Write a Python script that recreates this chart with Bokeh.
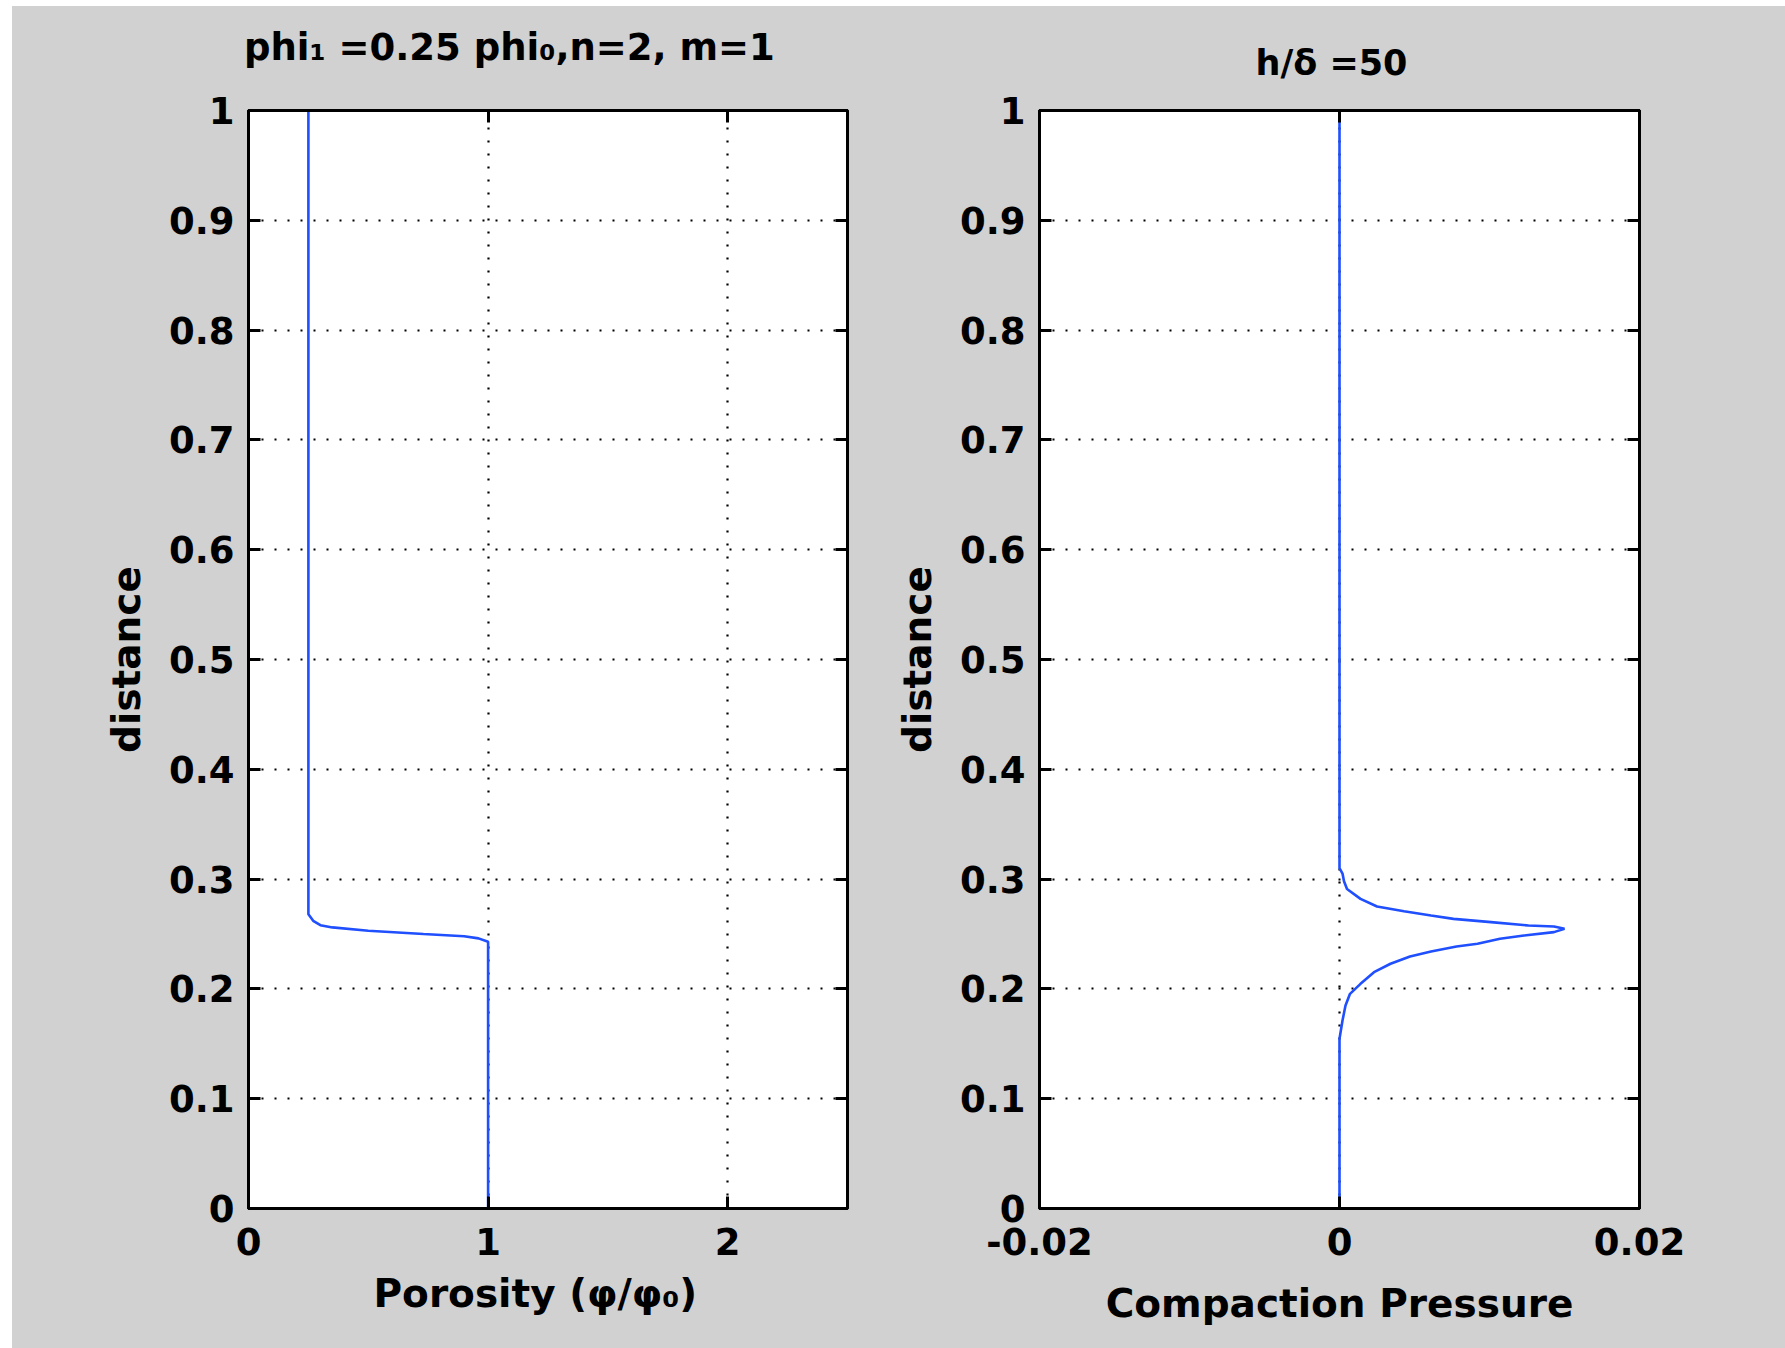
from bokeh.plotting import figure
from bokeh.models import Range1d, FixedTicker, CustomJSTickFormatter, LinearAxis, Title, Spacer
from bokeh.layouts import row, column
from bokeh.embed import file_html
from bokeh.resources import INLINE

# ---------------- data ----------------
distance_ticks = [0, 0.1, 0.2, 0.3, 0.4, 0.5, 0.6, 0.7, 0.8, 0.9, 1.0]
porosity_ticks = [0, 1, 2]
pressure_ticks = [-0.02, 0, 0.02]

porosity_x = [0.25, 0.25, 0.27, 0.30, 0.35, 0.50, 0.73, 0.90, 0.96, 1.0, 1.0]
porosity_y = [1.0, 0.268, 0.262, 0.258, 0.256, 0.253, 0.250, 0.248, 0.246, 0.243, 0.0]

pressure_x = [0, 0, 0.0002, 0.0003, 0.0005, 0.0014, 0.0025, 0.0043, 0.0061, 0.0076,
              0.0101, 0.0126, 0.0143, 0.0150, 0.0143, 0.0123, 0.0107, 0.0092, 0.0078,
              0.0061, 0.0047, 0.0034, 0.0023, 0.0014, 0.0007, 0.0004, 0.0002, 0, 0]
pressure_y = [1.0, 0.31, 0.305, 0.298, 0.291, 0.282, 0.275, 0.2708, 0.2669, 0.2638,
              0.2608, 0.2577, 0.2568, 0.2547, 0.2517, 0.2486, 0.2456, 0.2411, 0.2386,
              0.2341, 0.2295, 0.2229, 0.2152, 0.2046, 0.1955, 0.1849, 0.1712, 0.1546, 0.0]

left_title = "phi\u2081 =0.25 phi\u2080,n=2, m=1"
right_title = "h/\u03b4 =50"
left_xlabel = "Porosity (\u03c6/\u03c6\u2080)"
right_xlabel = "Compaction Pressure"
ylabel = "distance"

# ---------------- style ----------------
GRAY = "#d1d1d1"
BLUE = "#1f4fff"
FONT = "DejaVu Sans"
NBSP_PAD = "\u00a0" * 6   # shifts the centred top label left, as in the original

fmt = CustomJSTickFormatter(code="return String(Math.round(tick*1000)/1000)")
blank = CustomJSTickFormatter(code="return ''")


def style_axis(ax, ticks, labels=True):
    ax.ticker = FixedTicker(ticks=ticks)
    ax.formatter = fmt if labels else blank
    ax.axis_line_color = "black"
    ax.axis_line_width = 3
    ax.major_tick_in = 12
    ax.major_tick_out = 0
    ax.major_tick_line_color = "black"
    ax.major_tick_line_width = 3
    ax.minor_tick_line_color = None
    ax.major_label_text_font = FONT
    ax.major_label_text_font_style = "bold"
    ax.major_label_text_font_size = "37px"
    ax.major_label_text_color = "black"
    ax.axis_label_text_font = FONT
    ax.axis_label_text_font_style = "bold"
    ax.axis_label_text_color = "black"
    if not labels:
        ax.major_label_standoff = 0
        ax.major_label_text_font_size = "1px"


def add_title(p, text, place, size, standoff, align="center", offset=0):
    p.add_layout(Title(text=text, align=align, offset=offset, standoff=standoff,
                       text_font=FONT, text_font_style="bold",
                       text_font_size=f"{size}px", text_color="black"), place)


def make_fig(xr, xticks, width, left, right):
    p = figure(width=width, height=1342, x_range=Range1d(*xr), y_range=Range1d(0, 1),
               output_backend="svg", toolbar_location=None, title=None,
               x_axis_location="below", y_axis_location="left",
               min_border_left=left, min_border_right=right,
               min_border_top=104, min_border_bottom=140)
    p.border_fill_color = GRAY
    p.background_fill_color = "white"
    p.outline_line_color = "black"
    p.outline_line_width = 3
    bottom = p.xaxis[0]
    style_axis(bottom, xticks)
    style_axis(p.yaxis[0], distance_ticks)
    bottom.major_label_standoff = 19
    p.yaxis[0].major_label_standoff = 14
    top = LinearAxis()
    style_axis(top, xticks, labels=False)
    p.add_layout(top, "above")
    rgt = LinearAxis()
    style_axis(rgt, distance_ticks, labels=False)
    p.add_layout(rgt, "right")
    p.xgrid.ticker = FixedTicker(ticks=xticks)
    p.ygrid.ticker = FixedTicker(ticks=distance_ticks)
    for g in (p.xgrid, p.ygrid):
        g.grid_line_color = "black"
        g.grid_line_width = 2.2
        g.grid_line_dash = "2 11"
        g.grid_line_alpha = 1.0
    return p, top, bottom


# ---------------- left panel ----------------
p1, top1, bottom1 = make_fig((0, 2.5), porosity_ticks, 858, 236, 23)
p1.line(porosity_x, porosity_y, line_color=BLUE, line_width=2.6)
top1.axis_label = left_title + NBSP_PAD
top1.axis_label_text_font_size = "37px"
top1.axis_label_standoff = 42
add_title(p1, left_xlabel, "below", 39, 22, align="left", offset=125)
add_title(p1, ylabel, "left", 39, 34)

# ---------------- right panel ----------------
p2, top2, bottom2 = make_fig((-0.02, 0.02), pressure_ticks, 915, 169, 146)
p2.line(pressure_x, pressure_y, line_color=BLUE, line_width=2.6)
add_title(p2, right_title, "above", 35, 56, align="left", offset=216)
bottom2.axis_label = right_xlabel
bottom2.axis_label_text_font_size = "39px"
bottom2.axis_label_standoff = 23
add_title(p2, ylabel, "left", 39, 34)

layout = column(Spacer(width=1785, height=6),
                row(Spacer(width=12, height=1342),
                    row(p1, p2, styles={"background-color": GRAY})))

open("out.html", "w").write(file_html(layout, INLINE))
